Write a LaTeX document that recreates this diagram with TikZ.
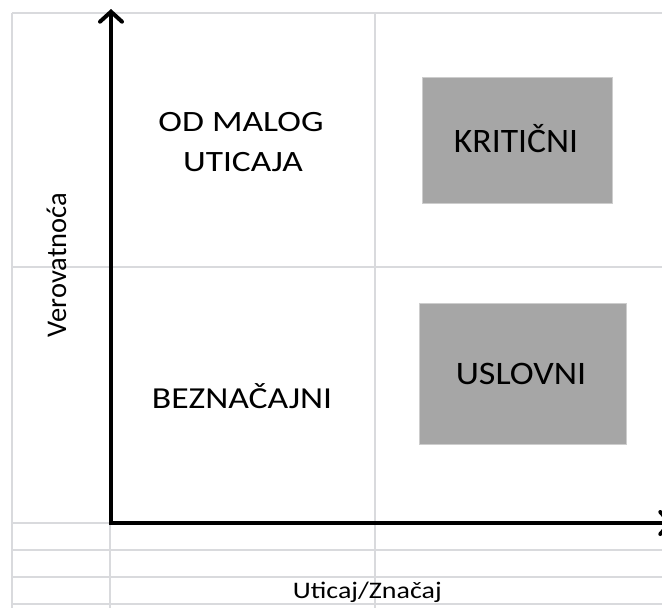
\documentclass[tikz,border=0pt]{standalone}
\usepackage{fontspec}
\setmainfont{Carlito}
\usetikzlibrary{arrows.meta}
\definecolor{gridgray}{RGB}{217,218,221}
\definecolor{boxgray}{RGB}{166,166,166}
\definecolor{boxedge}{RGB}{205,205,205}
\begin{document}
\begin{tikzpicture}[x=1pt,y=-1pt,
  gridline/.style={draw=gridgray, line width=1.6pt},
  axisline/.style={draw=black, line width=4.6pt, line cap=butt},
  axistip/.style={-{Straight Barb[length=10pt,width=22pt,line width=4pt,line cap=round]}},
  cellbox/.style={fill=boxgray, draw=boxedge, line width=0.8pt, inner sep=0pt},
  lbl/.style={inner sep=0pt, text=black}]
\useasboundingbox (0,0) rectangle (662,608);
\clip (0,0) rectangle (662,608);
\fill[white] (0,0) rectangle (662,608);
% grid
\draw[gridline] (12,13) -- (12,608);
\draw[gridline] (110,523) -- (110,608);
\draw[gridline] (375,13) -- (375,608);
\draw[gridline] (12,13) -- (662,13);
\draw[gridline] (12,267) -- (662,267);
\draw[gridline] (12,523) -- (662,523);
\draw[gridline] (12,550) -- (662,550);
\draw[gridline] (12,577) -- (662,577);
\draw[gridline] (12,604) -- (662,604);
% boxes
\node[cellbox, minimum width=190pt, minimum height=126pt] (krit) at (517,140) {};
\node[cellbox, minimum width=207pt, minimum height=141pt] (uslov) at (522.5,373.5) {};
% axes
\coordinate (origin) at (111,523);
\coordinate (ytip) at (111,9);
\coordinate (xtip) at (673,523);
\draw[axisline, axistip] (origin) -- (ytip);
\draw[axisline, axistip] (origin) -- (xtip);
\fill (108.7,520.7) rectangle (113.3,525.3);
% labels
\node[lbl, anchor=base, font=\fontsize{29.5}{36}\selectfont] (om1) at (241,131) {\scalebox{1.21}[1]{OD MALOG}};
\node[lbl, anchor=base, font=\fontsize{29.5}{36}\selectfont] (om2) at (243,171.5) {\scalebox{1.20}[1]{UTICAJA}};
\node[lbl, anchor=base, font=\fontsize{30.5}{36}\selectfont] (bez) at (242,408) {\scalebox{1.17}[1]{BEZNAČAJNI}};
\node[lbl, anchor=base, font=\fontsize{34.3}{40}\selectfont] (kritl) at (516,152) {\scalebox{1.04}[1]{KRITIČNI}};
\node[lbl, anchor=base, font=\fontsize{32.8}{40}\selectfont] (uslovl) at (521,384.5) {\scalebox{1.10}[1]{USLOVNI}};
\node[lbl, anchor=base, font=\fontsize{23.7}{28}\selectfont] (xlab) at (367.3,598.5) {\scalebox{1.18}[1]{Uticaj/Značaj}};
\node[lbl, anchor=base, rotate=90, font=\fontsize{28.5}{34}\selectfont] (ylab) at (66,265) {Verovatnoća};
\end{tikzpicture}
\end{document}
